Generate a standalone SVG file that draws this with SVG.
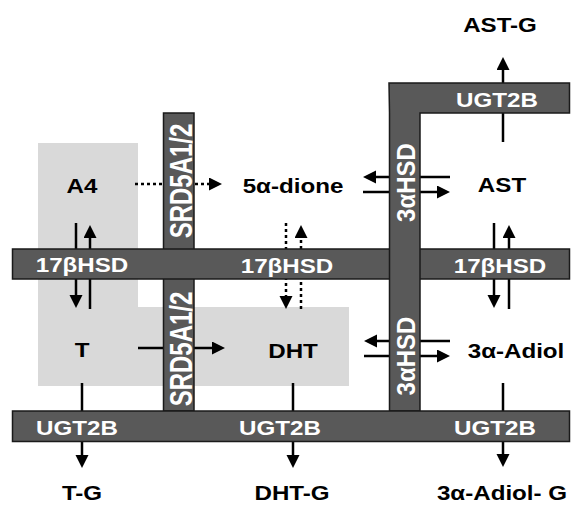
<svg xmlns="http://www.w3.org/2000/svg" width="571" height="506" viewBox="0 0 571 506">
<defs>
<style>
.bar{fill:#595959;stroke:#1a1a1a;stroke-width:1.5}
.lbl{font-family:"Liberation Sans",Arial,sans-serif;font-weight:bold;font-size:21px;fill:#fff;text-anchor:middle}
.vlbl{font-family:"Liberation Sans",Arial,sans-serif;font-weight:bold;font-size:24px;fill:#fff;text-anchor:middle}
.node{font-family:"Liberation Sans",Arial,sans-serif;font-weight:bold;font-size:21px;fill:#000;text-anchor:middle}
.c{stroke:#000;stroke-width:2.5;fill:none;marker-end:url(#ah)}
.d{stroke-dasharray:3,3}
</style>
<marker id="ah" markerUnits="userSpaceOnUse" markerWidth="14" markerHeight="14" refX="9" refY="6.5" orient="auto">
<path d="M0,0 L13,6.5 L0,13 z" fill="#000"/>
</marker>
</defs>
<rect width="571" height="506" fill="#fff"/>
<polygon id="shade" points="38,143 138,143 138,307 349,307 349,386 38,386" fill="#d9d9d9"/>
<g id="connectors">
<line class="c d" x1="135" y1="184" x2="218" y2="184"/>
<line class="c" x1="450" y1="177" x2="367" y2="177"/>
<line class="c" x1="363" y1="192" x2="446" y2="192"/>
<line class="c" x1="76" y1="223" x2="76" y2="304"/>
<line class="c" x1="90" y1="309" x2="90" y2="229"/>
<line class="c d" x1="286" y1="223" x2="286" y2="305"/>
<line class="c d" x1="301" y1="309" x2="301" y2="229"/>
<line class="c" x1="494" y1="223" x2="494" y2="304"/>
<line class="c" x1="509" y1="309" x2="509" y2="229"/>
<line class="c" x1="138" y1="348" x2="221" y2="348"/>
<line class="c" x1="450" y1="341" x2="368" y2="341"/>
<line class="c" x1="364" y1="356" x2="446" y2="356"/>
<line class="c" x1="82" y1="383" x2="82" y2="464"/>
<line class="c" x1="293" y1="383" x2="293" y2="464"/>
<line class="c" x1="503" y1="383" x2="503" y2="463"/>
<line class="c" x1="503" y1="142" x2="503" y2="61"/>
</g>
<g id="SRD5A12">
<rect class="bar" x="163.5" y="113" width="30.5" height="298"/>
<text class="vlbl" transform="translate(191.5,181) rotate(-90) scale(1,1.3)">SRD5A1/2</text>
<text class="vlbl" transform="translate(191.5,349) rotate(-90) scale(1,1.3)">SRD5A1/2</text>
</g>
<g id="HSD17B">
<rect class="bar" x="12.5" y="249" width="557" height="30"/>
<text class="lbl" transform="translate(82,272) scale(1.15,1)">17βHSD</text>
<text class="lbl" transform="translate(287,273) scale(1.15,1)">17βHSD</text>
<text class="lbl" transform="translate(500,273) scale(1.15,1)">17βHSD</text>
</g>
<g id="HSD3A">
<path class="bar" d="M389,83 H569.5 V113 H420 V411 H389.5 V113 Z"/>
<text class="lbl" transform="translate(497,107) scale(1.15,1)">UGT2B</text>
<text class="vlbl" transform="translate(415,182.5) rotate(-90) scale(1,1.1)">3αHSD</text>
<text class="vlbl" transform="translate(415,356) rotate(-90) scale(1,1.1)">3αHSD</text>
</g>
<g id="UGT2B">
<rect class="bar" x="12.5" y="411" width="557" height="30.5"/>
<text class="lbl" transform="translate(77,435) scale(1.15,1)">UGT2B</text>
<text class="lbl" transform="translate(280,435) scale(1.15,1)">UGT2B</text>
<text class="lbl" transform="translate(495,435) scale(1.15,1)">UGT2B</text>
</g>
<g id="A4"><text class="node" transform="translate(82,193) scale(1.15,1)">A4</text></g>
<g id="dione"><text class="node" transform="translate(293,193) scale(1.15,1)">5α-dione</text></g>
<g id="AST"><text class="node" transform="translate(502,192) scale(1.15,1)">AST</text></g>
<g id="T"><text class="node" transform="translate(82,357) scale(1.15,1)">T</text></g>
<g id="DHT"><text class="node" transform="translate(293,358) scale(1.15,1)">DHT</text></g>
<g id="Adiol"><text class="node" transform="translate(516,358) scale(1.15,1)">3α-Adiol</text></g>
<g id="ASTG"><text class="node" transform="translate(500,32) scale(1.15,1)">AST-G</text></g>
<g id="TG"><text class="node" transform="translate(82,500) scale(1.15,1)">T-G</text></g>
<g id="DHTG"><text class="node" transform="translate(292,500) scale(1.15,1)">DHT-G</text></g>
<g id="AdiolG"><text class="node" transform="translate(502,500) scale(1.15,1)">3α-Adiol- G</text></g>
</svg>
